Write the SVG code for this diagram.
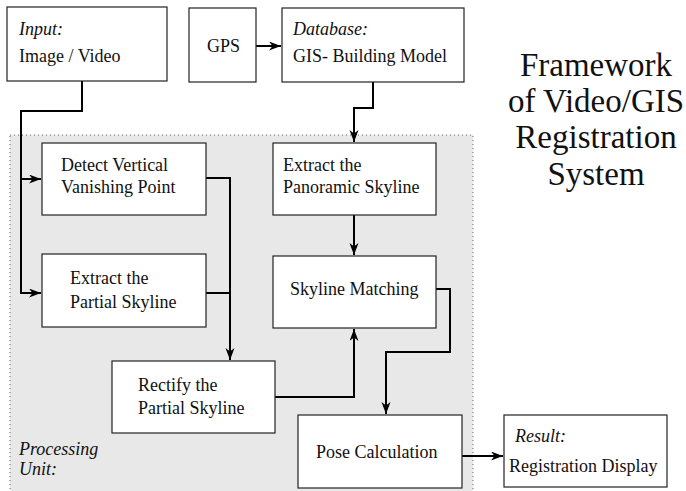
<svg xmlns="http://www.w3.org/2000/svg" width="686" height="491" viewBox="0 0 686 491">
<defs>
<style>
.box{fill:#fff;stroke:#222;stroke-width:1.2}
.c{fill:none;stroke:#000;stroke-width:2}
</style>
<marker id="ah" markerUnits="userSpaceOnUse" markerWidth="14" markerHeight="10" refX="12" refY="4.5" orient="auto">
<path d="M0,0 L12,4.5 L0,9 L3.5,4.5 z" fill="#000"/>
</marker>
</defs>
<rect width="686" height="491" fill="#fff"/>
<g font-family="Liberation Serif, Times New Roman, DejaVu Serif, serif" font-size="18" fill="#111">
<g id="processing-unit">
<rect x="10" y="135" width="463" height="362" fill="#e8e8e8" stroke="#666" stroke-width="1" stroke-dasharray="1,3"/>
<text font-style="italic" x="19" y="455">Processing</text>
<text font-style="italic" x="19" y="475">Unit:</text>
</g>
<g id="title" font-size="33" text-anchor="middle">
<text x="596" y="76">Framework</text>
<text x="596" y="112">of Video/GIS</text>
<text x="596" y="148">Registration</text>
<text x="596" y="185">System</text>
</g>
<g id="connectors">
<path class="c" d="M82,81 V111 H21 V293 H41" marker-end="url(#ah)"/>
<path class="c" d="M21,179 H41" marker-end="url(#ah)"/>
<path class="c" d="M256,46 H281" marker-end="url(#ah)"/>
<path class="c" d="M373,82 V108 H354 V142" marker-end="url(#ah)"/>
<path class="c" d="M354,215 V255" marker-end="url(#ah)"/>
<path class="c" d="M206,178 H230 V360" marker-end="url(#ah)"/>
<path class="c" d="M206,293 H230"/>
<path class="c" d="M275,397 H354 V329" marker-end="url(#ah)"/>
<path class="c" d="M436,289 H450 V352 H386 V414" marker-end="url(#ah)"/>
<path class="c" d="M461,456 H503" marker-end="url(#ah)"/>
</g>
<g id="input">
<rect class="box" x="7" y="7" width="160" height="74"/>
<text font-style="italic" x="19" y="35">Input:</text>
<text x="19" y="62">Image / Video</text>
</g>
<g id="gps">
<rect class="box" x="189" y="8" width="67" height="74"/>
<text x="207" y="52">GPS</text>
</g>
<g id="database">
<rect class="box" x="282" y="8" width="182" height="74"/>
<text font-style="italic" x="293" y="35">Database:</text>
<text x="293" y="62">GIS- Building Model</text>
</g>
<g id="detect-vvp">
<rect class="box" x="42" y="143" width="164" height="72"/>
<text x="61" y="171">Detect Vertical</text>
<text x="61" y="193">Vanishing Point</text>
</g>
<g id="extract-panoramic">
<rect class="box" x="273" y="143" width="163" height="72"/>
<text x="283" y="171">Extract the</text>
<text x="283" y="193">Panoramic Skyline</text>
</g>
<g id="extract-partial">
<rect class="box" x="42" y="254" width="164" height="73"/>
<text x="70" y="284">Extract the</text>
<text x="70" y="308">Partial Skyline</text>
</g>
<g id="skyline-matching">
<rect class="box" x="273" y="256" width="163" height="72"/>
<text x="290" y="295">Skyline Matching</text>
</g>
<g id="rectify">
<rect class="box" x="112" y="361" width="163" height="72"/>
<text x="138" y="391">Rectify the</text>
<text x="138" y="414">Partial Skyline</text>
</g>
<g id="pose">
<rect class="box" x="298" y="415" width="164" height="73"/>
<text x="316" y="458">Pose Calculation</text>
</g>
<g id="result">
<rect class="box" x="504" y="415" width="163" height="72"/>
<text font-style="italic" x="515" y="442">Result:</text>
<text x="509" y="472">Registration Display</text>
</g>
</g>
</svg>
